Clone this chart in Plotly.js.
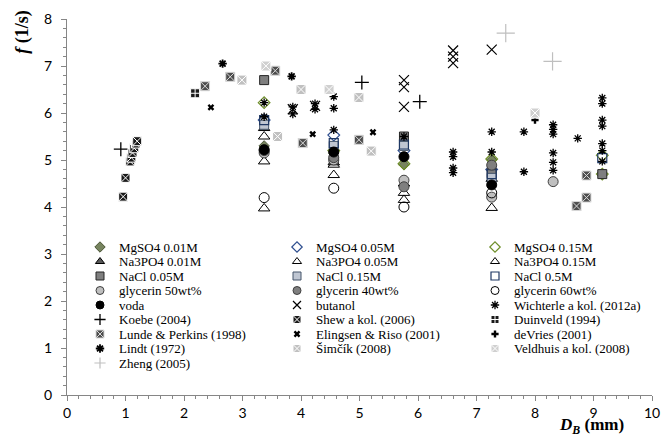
<!DOCTYPE html>
<html><head><meta charset="utf-8">
<script src="https://cdn.plot.ly/plotly-3.0.1.min.js"></script>
<style>html,body{margin:0;padding:0;background:#fff}#chart{width:662px;height:439px}</style>
</head><body><div id="chart"></div>
<script>
// ---- data (D_B in mm, f in 1/s) ----
const seriesNames = ["MgSO4 0.01M","MgSO4 0.05M","MgSO4 0.15M","Na3PO4 0.01M","Na3PO4 0.05M","Na3PO4 0.15M",
  "NaCl 0.05M","NaCl 0.15M","NaCl 0.5M","glycerin 50wt%","glycerin 40wt%","glycerin 60wt%",
  "voda","butanol","Wichterle a kol. (2012a)","Koebe (2004)","Shew a kol. (2006)","Duinveld (1994)",
  "Lunde & Perkins (1998)","Elingsen & Riso (2001)","deVries (2001)","Lindt (1972)","Šimčík (2008)",
  "Veldhuis a kol. (2008)","Zheng (2005)"];

const mgso4_001_x = [3.37, 4.56, 5.76, 7.26];
const mgso4_001_y = [5.30, 5.15, 4.90, 5.00];
const mgso4_005_x = [3.37, 4.56, 5.76, 7.26];
const mgso4_005_y = [5.85, 5.53, 5.20, 4.80];
const mgso4_015_x = [3.37, 4.56, 5.76, 7.26, 9.15, 9.15];
const mgso4_015_y = [6.22, 5.20, 4.92, 5.02, 5.10, 4.70];
const na3po4_001_x = [3.37, 4.56, 5.76, 7.26];
const na3po4_001_y = [5.68, 4.95, 4.50, 4.60];
const na3po4_005_x = [3.37, 4.56, 5.76, 7.26];
const na3po4_005_y = [3.97, 4.68, 4.15, 3.98];
const na3po4_015_x = [3.37, 3.37, 4.56, 5.76];
const na3po4_015_y = [5.50, 4.97, 4.90, 4.30];
const nacl_005_x = [3.37, 4.56, 5.76, 7.26, 9.15];
const nacl_005_y = [6.70, 5.00, 5.50, 4.72, 4.70];
const nacl_015_x = [3.37, 4.56, 5.76, 7.26];
const nacl_015_y = [5.75, 5.30, 5.30, 4.62];
const nacl_05_x = [3.37, 4.56, 5.76, 7.26, 9.15];
const nacl_05_y = [5.85, 5.36, 5.33, 4.70, 5.04];
const gly50_x = [3.37, 4.56, 5.76, 7.26, 8.31];
const gly50_y = [5.15, 5.00, 4.57, 4.21, 4.54];
const gly40_x = [3.37, 4.56, 5.76, 7.26];
const gly40_y = [5.20, 5.05, 4.43, 4.89];
const gly60_x = [3.37, 4.56, 5.76, 7.26];
const gly60_y = [4.20, 4.40, 4.00, 4.30];
const voda_x = [3.37, 4.56, 5.76, 7.26];
const voda_y = [5.22, 5.17, 5.07, 4.47];
const butanol_x = [3.86, 4.24, 5.76, 5.76, 5.76, 6.60, 6.60, 6.60, 7.26];
const butanol_y = [6.08, 6.15, 6.70, 6.55, 6.13, 7.33, 7.20, 7.06, 7.35];
const wichterle_x = [3.37, 3.37, 3.86, 3.86, 4.24, 4.24, 4.56, 4.56, 4.56, 5.76, 6.60, 6.60, 6.60, 6.60,
  7.26, 7.26, 7.81, 7.81, 8.31, 8.31, 8.31, 8.31, 8.31, 8.31, 8.73, 9.15, 9.15, 9.15, 9.15, 9.15, 9.15, 9.15];
const wichterle_y = [5.92, 6.22, 6.13, 5.98, 6.20, 6.08, 6.35, 6.10, 5.64, 5.50, 5.17, 5.07, 4.83, 4.73,
  5.60, 5.17, 5.60, 4.75, 5.75, 5.65, 5.55, 5.15, 4.95, 4.78, 5.46, 6.32, 6.20, 5.85, 5.72, 5.35, 5.20, 4.97];
const koebe_x = [0.92, 5.04, 6.03];
const koebe_y = [5.23, 6.65, 6.24];
const shew_x = [0.96, 1.00, 1.08, 1.10, 1.12, 1.15, 1.18, 1.20];
const shew_y = [4.22, 4.62, 4.97, 5.05, 5.15, 5.25, 5.35, 5.40];
const duinveld_x = [2.19];
const duinveld_y = [6.42];
const lunde_x = [2.36, 2.79, 3.56, 4.03, 4.99, 8.71, 8.88, 8.88];
const lunde_y = [6.57, 6.77, 6.90, 5.36, 5.43, 4.02, 4.20, 4.67];
const elingsen_x = [2.46, 4.20, 5.23];
const elingsen_y = [6.12, 5.55, 5.59];
const devries_x = [8.00];
const devries_y = [5.85];
const lindt_x = [2.66, 3.84];
const lindt_y = [7.05, 6.78];
const simcik_x = [2.99, 3.60, 4.00, 4.99, 5.20];
const simcik_y = [6.70, 5.50, 6.50, 6.33, 5.19];
const veldhuis_x = [3.40, 4.48, 8.00];
const veldhuis_y = [7.00, 6.50, 6.00];
const zheng_x = [7.50, 8.30];
const zheng_y = [7.70, 7.10];

const xTickVals = [0,1,2,3,4,5,6,7,8,9,10];
const yTickVals = [0,1,2,3,4,5,6,7,8];

// ---- styles ----
const styles = [
  {symbol:"diamond", size:8, color:"#77845f", line:{color:"#4a5535", width:1}},
  {symbol:"diamond-open", size:9, color:"#2f4f8f", line:{color:"#2f4f8f", width:1.2}},
  {symbol:"diamond-open", size:9, color:"#6f8f2a", line:{color:"#6f8f2a", width:1.2}},
  {symbol:"triangle-up", size:10, color:"#595959", line:{color:"#000", width:1}},
  {symbol:"triangle-up-open", size:10, color:"#000", line:{color:"#000", width:1}},
  {symbol:"triangle-up-open", size:10, color:"#000", line:{color:"#000", width:1}},
  {symbol:"square", size:9, color:"#7f7f7f", line:{color:"#262626", width:1}},
  {symbol:"square", size:9, color:"#bfc6d2", line:{color:"#44546a", width:1}},
  {symbol:"square-open", size:9, color:"#1f3864", line:{color:"#1f3864", width:1.2}},
  {symbol:"circle", size:10, color:"#bfbfbf", line:{color:"#404040", width:1}},
  {symbol:"circle", size:10, color:"#7f7f7f", line:{color:"#404040", width:1}},
  {symbol:"circle-open", size:10, color:"#000", line:{color:"#000", width:1}},
  {symbol:"circle", size:10, color:"#000", line:{color:"#000", width:1}},
  {symbol:"x-thin-open", size:10, color:"#000", line:{color:"#000", width:1.2}},
  {symbol:"asterisk-open", size:7, color:"#000", line:{color:"#000", width:1.3}},
  {symbol:"cross-thin-open", size:10, color:"#000", line:{color:"#000", width:1.3}},
  {symbol:"square-x", size:9, color:"#1a1a1a", line:{color:"#ffffff", width:1}},
  {symbol:"square-cross", size:9, color:"#1a1a1a", line:{color:"#ffffff", width:1}},
  {symbol:"square-x", size:9, color:"#4d4d4d", line:{color:"#d9d9d9", width:1}},
  {symbol:"x", size:6, color:"#000", line:{color:"#000", width:0}},
  {symbol:"cross", size:6, color:"#000", line:{color:"#000", width:0}},
  {symbol:"asterisk-open", size:7, color:"#000", line:{color:"#000", width:1.8}},
  {symbol:"square-x", size:10, color:"#c0c0c0", line:{color:"#ffffff", width:1}},
  {symbol:"square-x", size:10, color:"#d0d0d0", line:{color:"#ffffff", width:1}},
  {symbol:"cross-thin-open", size:13, color:"#bfbfbf", line:{color:"#bfbfbf", width:1.2}}
];

const xs = [mgso4_001_x,mgso4_005_x,mgso4_015_x,na3po4_001_x,na3po4_005_x,na3po4_015_x,nacl_005_x,nacl_015_x,nacl_05_x,
  gly50_x,gly40_x,gly60_x,voda_x,butanol_x,wichterle_x,koebe_x,shew_x,duinveld_x,lunde_x,elingsen_x,devries_x,lindt_x,simcik_x,veldhuis_x,zheng_x];
const ys = [mgso4_001_y,mgso4_005_y,mgso4_015_y,na3po4_001_y,na3po4_005_y,na3po4_015_y,nacl_005_y,nacl_015_y,nacl_05_y,
  gly50_y,gly40_y,gly60_y,voda_y,butanol_y,wichterle_y,koebe_y,shew_y,duinveld_y,lunde_y,elingsen_y,devries_y,lindt_y,simcik_y,veldhuis_y,zheng_y];

const traces = [];
const annotations = [];
// legend geometry (pixel coordinates via hidden axes x2/y2)
const legCols = [100, 297, 495], legRow0 = 247, legRowH = 14.5, legTextGap = 17;

seriesNames.forEach((name, i) => {
  const st = styles[i];
  traces.push({type:"scatter", mode:"markers", name:name, x:xs[i], y:ys[i],
    marker:{symbol:st.symbol, size:st.size, color:st.color, line:st.line}, showlegend:false, hoverinfo:"x+y+name"});
  const col = i % 3, row = Math.floor(i / 3);
  const lx = legCols[col], ly = legRow0 + row * legRowH;
  traces.push({type:"scatter", mode:"markers", x:[lx], y:[ly], xaxis:"x2", yaxis:"y2", showlegend:false, hoverinfo:"skip",
    marker:{symbol:st.symbol, size:Math.min(st.size, 8), color:st.color, line:st.line}});
  annotations.push({xref:"x2", yref:"y2", x:lx + legTextGap, y:ly, xanchor:"left", yanchor:"middle", showarrow:false,
    text:name, font:{family:"Liberation Serif, Times New Roman, serif", size:13, color:"#000"}});
});

annotations.push({xref:"paper", yref:"paper", x:-0.075, y:1.03, xanchor:"center", yanchor:"top", textangle:-90, showarrow:false,
  text:"<b><i>f</i> (1/s)</b>", font:{family:"Liberation Serif, Times New Roman, serif", size:18, color:"#000"}});
annotations.push({xref:"paper", yref:"paper", x:0.896, y:-0.118, xanchor:"center", yanchor:"bottom", showarrow:false,
  text:"<b><i>D</i><sub><i>B</i></sub> (mm)</b>", font:{family:"Liberation Serif, Times New Roman, serif", size:17, color:"#000"}});

const axisCol = "#868686";
const tickFont = {family:"Lato, Open Sans, sans-serif", size:14, color:"#000"};
const layout = {
  width:662, height:439,
  margin:{l:67, r:10, t:19, b:44},
  paper_bgcolor:"#fff", plot_bgcolor:"#fff",
  showlegend:false,
  font:tickFont,
  xaxis:{range:[0,10], tickvals:xTickVals, ticktext:xTickVals.map(String), showgrid:false, zeroline:false,
    showline:true, linecolor:axisCol, linewidth:1, ticks:"outside", ticklen:5, tickcolor:axisCol,
    minor:{dtick:0.2, ticks:"outside", ticklen:3, tickcolor:axisCol}, tickfont:tickFont},
  yaxis:{range:[0,8], tickvals:yTickVals, ticktext:yTickVals.map(String), showgrid:false, zeroline:false,
    showline:true, linecolor:axisCol, linewidth:1, ticks:"outside", ticklen:5, tickcolor:axisCol,
    minor:{dtick:0.2, ticks:"outside", ticklen:3, tickcolor:axisCol}, tickfont:tickFont, ticklabelstandoff:6},
  xaxis2:{range:[67,652], overlaying:"x", visible:false, fixedrange:true},
  yaxis2:{range:[395,19], overlaying:"y", visible:false, fixedrange:true},
  annotations:annotations
};
Plotly.newPlot("chart", traces, layout, {displayModeBar:false, staticPlot:true});
</script></body></html>
